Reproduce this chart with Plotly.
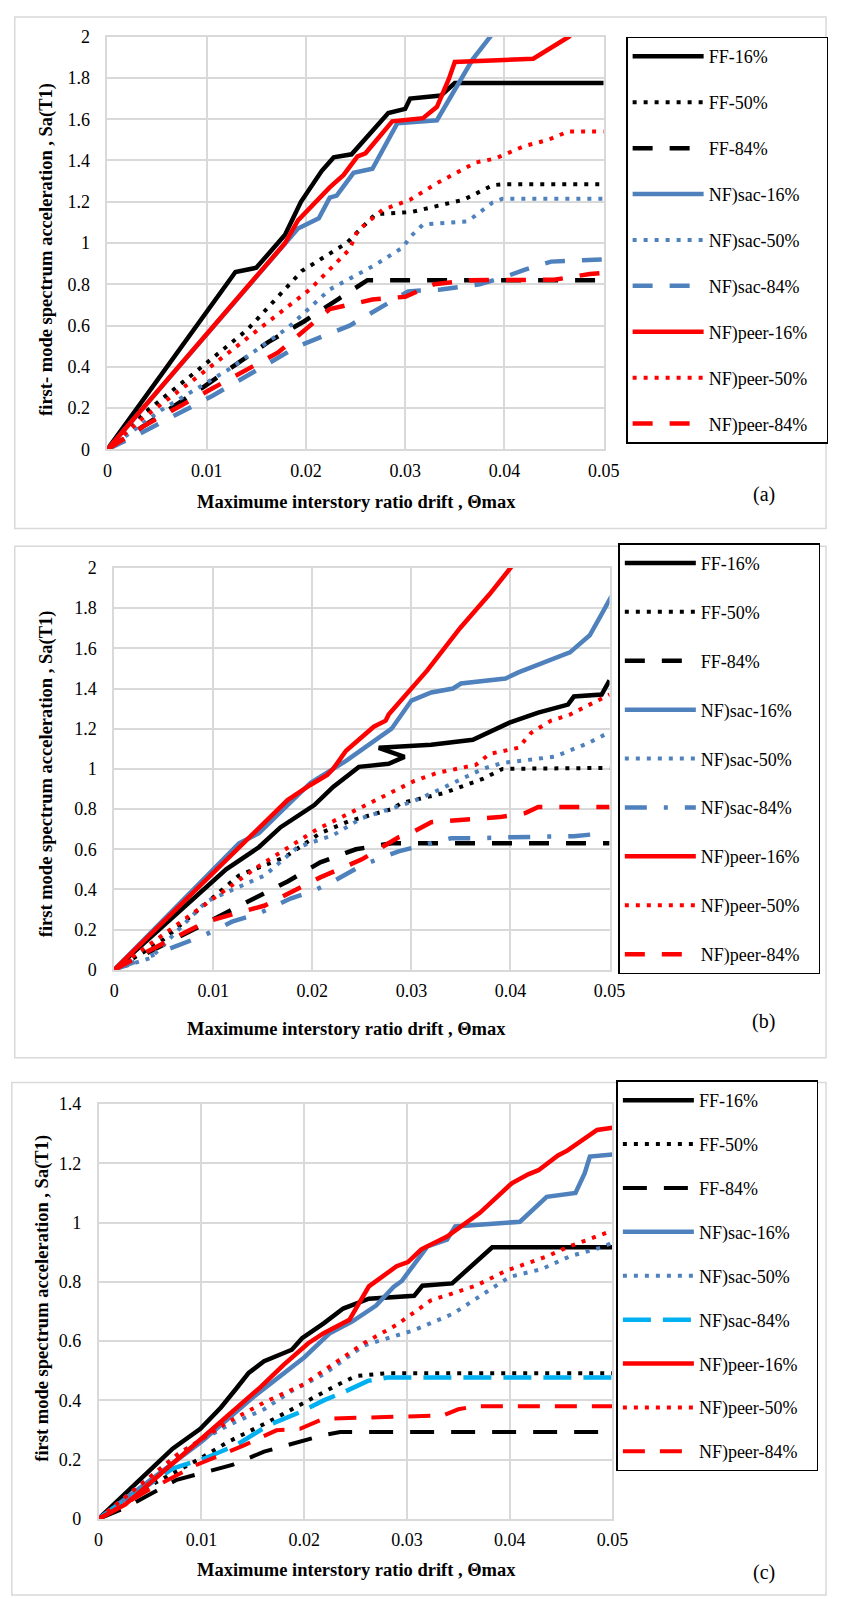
import plotly.graph_objects as go

# ---------------- data: panel (a) ----------------
A_FF16_X = [0, 0.0129, 0.015, 0.0179, 0.0195, 0.0216, 0.0228, 0.0246, 0.0283, 0.0300, 0.0305, 0.0336, 0.0350, 0.05]
A_FF16_Y = [0, 0.86, 0.88, 1.04, 1.20, 1.35, 1.415, 1.43, 1.63, 1.65, 1.70, 1.715, 1.775, 1.775]
A_FF50_X = [0, 0.0025, 0.009, 0.0141, 0.0196, 0.0241, 0.027, 0.0306, 0.0359, 0.0388, 0.0398, 0.05]
A_FF50_Y = [0, 0.13, 0.38, 0.58, 0.865, 1.0, 1.14, 1.15, 1.21, 1.28, 1.285, 1.285]
A_FF84_X = [0, 0.0096, 0.0162, 0.0198, 0.0233, 0.0262, 0.05]
A_FF84_Y = [0, 0.30, 0.52, 0.62, 0.73, 0.82, 0.82]
A_SAC16_X = [0, 0.0155, 0.018, 0.0192, 0.0213, 0.0224, 0.0231, 0.0248, 0.0267, 0.0292, 0.0332, 0.0368, 0.041]
A_SAC16_Y = [0, 0.86, 1.0, 1.07, 1.12, 1.22, 1.23, 1.34, 1.36, 1.58, 1.595, 1.89, 2.15]
A_SAC50_X = [0, 0.0054, 0.0123, 0.0182, 0.0224, 0.027, 0.0298, 0.0305, 0.0318, 0.0362, 0.037, 0.0388, 0.0398, 0.05]
A_SAC50_Y = [0, 0.19, 0.39, 0.59, 0.775, 0.895, 0.98, 1.03, 1.09, 1.105, 1.13, 1.196, 1.215, 1.215]
A_SAC84_X = [0, 0.0034, 0.0106, 0.0146, 0.0192, 0.0244, 0.028, 0.0303, 0.0336, 0.0375, 0.0401, 0.042, 0.0447, 0.0498]
A_SAC84_Y = [0, 0.08, 0.26, 0.37, 0.50, 0.60, 0.70, 0.766, 0.775, 0.80, 0.837, 0.87, 0.91, 0.92]
A_PEER16_X = [0, 0.0179, 0.0192, 0.0224, 0.0238, 0.0252, 0.026, 0.0287, 0.0318, 0.0332, 0.0344, 0.035, 0.0429, 0.0465, 0.05]
A_PEER16_Y = [0, 1.0, 1.11, 1.27, 1.33, 1.42, 1.435, 1.59, 1.605, 1.66, 1.795, 1.877, 1.893, 2.0, 2.2]
A_PEER50_X = [0, 0.0034, 0.0093, 0.0155, 0.0204, 0.0244, 0.0252, 0.0277, 0.0305, 0.0332, 0.0371, 0.0391, 0.042, 0.0444, 0.0464, 0.05]
A_PEER50_Y = [0, 0.145, 0.36, 0.59, 0.775, 0.97, 1.06, 1.16, 1.21, 1.29, 1.39, 1.41, 1.47, 1.50, 1.54, 1.54]
A_PEER84_X = [0, 0.0039, 0.0106, 0.0172, 0.0224, 0.0267, 0.030, 0.0329, 0.0365, 0.045, 0.0486, 0.05]
A_PEER84_Y = [0, 0.12, 0.296, 0.47, 0.68, 0.726, 0.74, 0.80, 0.82, 0.822, 0.85, 0.855]

# ---------------- data: panel (b) ----------------
B_FF16_X = [0, 0.0113, 0.0146, 0.0168, 0.0202, 0.0221, 0.0247, 0.0277, 0.0293, 0.0267, 0.032, 0.0362, 0.0399, 0.0428, 0.0458, 0.0464, 0.0492, 0.05]
B_FF16_Y = [0, 0.50, 0.61, 0.71, 0.82, 0.91, 1.01, 1.025, 1.06, 1.105, 1.12, 1.145, 1.23, 1.28, 1.32, 1.36, 1.37, 1.44]
B_FF50_X = [0, 0.0047, 0.0126, 0.0172, 0.0208, 0.0237, 0.028, 0.029, 0.0333, 0.0372, 0.0392, 0.05]
B_FF50_Y = [0, 0.14, 0.47, 0.56, 0.68, 0.74, 0.80, 0.83, 0.88, 0.95, 1.0, 1.005]
B_FF84_X = [0, 0.0106, 0.0146, 0.0175, 0.0208, 0.0244, 0.028, 0.05]
B_FF84_Y = [0, 0.27, 0.37, 0.44, 0.535, 0.60, 0.63, 0.63]
B_SAC16_X = [0, 0.0126, 0.0146, 0.0198, 0.0234, 0.028, 0.030, 0.032, 0.0342, 0.035, 0.0395, 0.0408, 0.046, 0.048, 0.0492, 0.0502]
B_SAC16_Y = [0, 0.63, 0.68, 0.93, 1.04, 1.20, 1.34, 1.38, 1.40, 1.425, 1.45, 1.48, 1.58, 1.665, 1.77, 1.86]
B_SAC50_X = [0, 0.0037, 0.0093, 0.0152, 0.0185, 0.0221, 0.025, 0.030, 0.0321, 0.0352, 0.0372, 0.0392, 0.0444, 0.0477, 0.0497]
B_SAC50_Y = [0, 0.06, 0.34, 0.47, 0.61, 0.67, 0.755, 0.835, 0.88, 0.95, 1.0, 1.03, 1.06, 1.125, 1.175]
B_SAC84_X = [0, 0.006, 0.009, 0.0119, 0.0146, 0.0178, 0.020, 0.0221, 0.025, 0.0287, 0.0308, 0.034, 0.0369, 0.0399, 0.0464, 0.0485]
B_SAC84_Y = [0, 0.11, 0.17, 0.24, 0.28, 0.355, 0.39, 0.44, 0.52, 0.59, 0.615, 0.655, 0.655, 0.66, 0.665, 0.675]
B_PEER16_X = [0, 0.0175, 0.0198, 0.0215, 0.0221, 0.0234, 0.0262, 0.0274, 0.0277, 0.0316, 0.0349, 0.0379, 0.040, 0.042]
B_PEER16_Y = [0, 0.845, 0.92, 0.97, 1.0, 1.09, 1.21, 1.24, 1.27, 1.49, 1.70, 1.87, 2.0, 2.13]
B_PEER50_X = [0, 0.008, 0.0144, 0.0205, 0.0271, 0.0303, 0.0326, 0.0365, 0.0379, 0.0408, 0.0421, 0.0441, 0.046, 0.048, 0.05]
B_PEER50_Y = [0, 0.28, 0.51, 0.70, 0.86, 0.94, 0.98, 1.02, 1.075, 1.105, 1.18, 1.24, 1.27, 1.32, 1.37]
B_PEER84_X = [0, 0.0037, 0.0093, 0.0152, 0.0208, 0.025, 0.0287, 0.0303, 0.032, 0.0346, 0.0389, 0.0415, 0.0428, 0.05]
B_PEER84_Y = [0, 0.10, 0.24, 0.32, 0.46, 0.55, 0.66, 0.69, 0.735, 0.745, 0.76, 0.78, 0.81, 0.81]

# ---------------- data: panel (c) ----------------
C_FF16_X = [0, 0.0072, 0.0099, 0.0119, 0.0134, 0.0146, 0.0161, 0.0188, 0.0198, 0.0219, 0.0238, 0.0263, 0.0307, 0.0315, 0.0344, 0.0383, 0.05]
C_FF16_Y = [0, 0.237, 0.304, 0.376, 0.44, 0.493, 0.532, 0.571, 0.61, 0.66, 0.71, 0.743, 0.753, 0.787, 0.795, 0.917, 0.917]
C_FF50_X = [0, 0.0053, 0.0099, 0.0126, 0.0165, 0.020, 0.0231, 0.025, 0.0281, 0.05]
C_FF50_Y = [0, 0.118, 0.204, 0.26, 0.327, 0.393, 0.45, 0.482, 0.492, 0.492]
C_FF84_X = [0, 0.0026, 0.0076, 0.013, 0.0161, 0.020, 0.0219, 0.0235, 0.05]
C_FF84_Y = [0, 0.038, 0.132, 0.182, 0.227, 0.265, 0.283, 0.293, 0.293]
C_SAC16_X = [0, 0.010, 0.015, 0.020, 0.0225, 0.0247, 0.027, 0.0287, 0.0295, 0.032, 0.0339, 0.0347, 0.041, 0.0436, 0.0464, 0.0473, 0.0478, 0.05]
C_SAC16_Y = [0, 0.26, 0.41, 0.545, 0.627, 0.667, 0.72, 0.783, 0.803, 0.92, 0.943, 0.987, 1.003, 1.087, 1.10, 1.167, 1.223, 1.23]
C_SAC50_X = [0, 0.008, 0.0126, 0.0161, 0.0188, 0.0219, 0.0258, 0.0307, 0.0345, 0.038, 0.040, 0.0431, 0.0459, 0.049, 0.05]
C_SAC50_Y = [0, 0.226, 0.316, 0.37, 0.432, 0.488, 0.585, 0.637, 0.693, 0.77, 0.817, 0.843, 0.887, 0.917, 0.933]
C_SAC84_X = [0, 0.0072, 0.0103, 0.0134, 0.0165, 0.0196, 0.0219, 0.0238, 0.0262, 0.0281, 0.05]
C_SAC84_Y = [0, 0.17, 0.204, 0.249, 0.316, 0.36, 0.40, 0.427, 0.466, 0.477, 0.477]
C_PEER16_X = [0, 0.0026, 0.0103, 0.0134, 0.0157, 0.018, 0.0204, 0.0219, 0.0244, 0.0263, 0.029, 0.0301, 0.0314, 0.0339, 0.0371, 0.0402, 0.0418, 0.0428, 0.0447, 0.0456, 0.0485, 0.05]
C_PEER16_Y = [0, 0.049, 0.28, 0.376, 0.443, 0.52, 0.593, 0.627, 0.672, 0.785, 0.853, 0.867, 0.91, 0.953, 1.033, 1.133, 1.163, 1.177, 1.227, 1.243, 1.313, 1.32]
C_PEER50_X = [0, 0.0076, 0.0126, 0.0161, 0.020, 0.0231, 0.0258, 0.029, 0.0323, 0.0367, 0.0396, 0.0437, 0.0456, 0.0495]
C_PEER50_Y = [0, 0.215, 0.327, 0.393, 0.455, 0.527, 0.593, 0.655, 0.737, 0.787, 0.837, 0.887, 0.917, 0.967]
C_PEER84_X = [0, 0.0049, 0.0095, 0.0142, 0.0173, 0.0196, 0.0219, 0.0238, 0.0296, 0.0335, 0.035, 0.0366, 0.05]
C_PEER84_Y = [0, 0.098, 0.182, 0.249, 0.299, 0.304, 0.338, 0.34, 0.343, 0.349, 0.37, 0.38, 0.38]

NAMES = ["FF-16%", "FF-50%", "FF-84%", "NF)sac-16%", "NF)sac-50%", "NF)sac-84%",
         "NF)peer-16%", "NF)peer-50%", "NF)peer-84%"]
X_TICKS = [0, 0.01, 0.02, 0.03, 0.04, 0.05]

BLACK = "#000000"
BLUE = "#4F81BD"
RED = "#FF0000"
CYAN = "#00B0F0"
GRID = "#D9D9D9"
FONT = "Liberation Serif, Times New Roman, serif"
DOT = "4px,7px"

panels = [
    dict(key="a", ax="", legend="legend",
         series=[(A_FF16_X, A_FF16_Y), (A_FF50_X, A_FF50_Y), (A_FF84_X, A_FF84_Y),
                 (A_SAC16_X, A_SAC16_Y), (A_SAC50_X, A_SAC50_Y), (A_SAC84_X, A_SAC84_Y),
                 (A_PEER16_X, A_PEER16_Y), (A_PEER50_X, A_PEER50_Y), (A_PEER84_X, A_PEER84_Y)],
         colors=[BLACK, BLACK, BLACK, BLUE, BLUE, BLUE, RED, RED, RED],
         dashes=["solid", DOT, "20px,17px"] * 3,
         widths=[4.5, 4, 4.5] * 3,
         px=(105, 614), py=(27, 445), yr=2, dy=0.2,
         ytitle="first- mode spectrum acceleration , Sa(T1)", ytx=43, yty=242,
         xtx=360, xty=498,
         box=(10, 7, 842, 525), leg=(637, 27), gap=19.5, tag_xy=(778, 491)),
    dict(key="b", ax="2", legend="legend2",
         series=[(B_FF16_X, B_FF16_Y), (B_FF50_X, B_FF50_Y), (B_FF84_X, B_FF84_Y),
                 (B_SAC16_X, B_SAC16_Y), (B_SAC50_X, B_SAC50_Y), (B_SAC84_X, B_SAC84_Y),
                 (B_PEER16_X, B_PEER16_Y), (B_PEER50_X, B_PEER50_Y), (B_PEER84_X, B_PEER84_Y)],
         colors=[BLACK, BLACK, BLACK, BLUE, BLUE, BLUE, RED, RED, RED],
         dashes=["solid", DOT, "20px,17px", "solid", DOT, "22px,17px,4px,17px",
                 "solid", DOT, "20px,17px"],
         widths=[4.5, 4, 4.5] * 3,
         px=(112, 620), py=(565, 972), yr=2, dy=0.2,
         ytitle="first mode spectrum acceleration , Sa(T1)", ytx=42, yty=773,
         xtx=350, xty=1032,
         box=(10, 543, 842, 1061), leg=(629, 540), gap=22.5, tag_xy=(778, 1024)),
    dict(key="c", ax="3", legend="legend3",
         series=[(C_FF16_X, C_FF16_Y), (C_FF50_X, C_FF50_Y), (C_FF84_X, C_FF84_Y),
                 (C_SAC16_X, C_SAC16_Y), (C_SAC50_X, C_SAC50_Y), (C_SAC84_X, C_SAC84_Y),
                 (C_PEER16_X, C_PEER16_Y), (C_PEER50_X, C_PEER50_Y), (C_PEER84_X, C_PEER84_Y)],
         colors=[BLACK, BLACK, BLACK, BLUE, BLUE, CYAN, RED, RED, RED],
         dashes=["solid", DOT, "24px,17px", "solid", DOT, "28px,12px",
                 "solid", DOT, "22px,15px"],
         widths=[4.5, 4, 4, 4.5, 4, 4.5, 4.5, 4, 4],
         px=(96, 623), py=(1108, 1528), yr=1.4, dy=0.2,
         ytitle="first mode spectrum acceleration , Sa(T1)", ytx=39, yty=1305,
         xtx=360, xty=1580,
         box=(7, 1086, 842, 1605), leg=(627, 1084), gap=17.5, tag_xy=(778, 1582)),
]

W, H = 843, 1599
fig = go.Figure()
shapes = []
annotations = []
layout = {}
PAD = "\u00a0\u00a0\u00a0"

for p in panels:
    xa = "x" + p["ax"]
    ya = "y" + p["ax"]
    for i, (xs, ys) in enumerate(p["series"]):
        fig.add_trace(go.Scatter(
            x=xs, y=ys, mode="lines", name=NAMES[i] + PAD,
            xaxis=xa, yaxis=ya, legend=p["legend"], legendgroup=p["key"] + str(i),
            line=dict(color=p["colors"][i], width=p["widths"][i], dash=p["dashes"][i]),
        ))
    x0, x1 = p["px"]
    yt, yb = p["py"]
    axis_common = dict(showgrid=True, gridcolor=GRID, gridwidth=1.5, zeroline=False,
                       showline=True, linecolor=GRID, linewidth=1.5, mirror=True,
                       tickfont=dict(family=FONT, size=18, color="#000"), ticks="")
    layout["xaxis" + p["ax"]] = dict(domain=[x0 / W, x1 / W], range=[0, 0.05],
                                     tickvals=X_TICKS, anchor=ya, ticklabelstandoff=4,
                                     **axis_common)
    layout["yaxis" + p["ax"]] = dict(domain=[1 - yb / H, 1 - yt / H], range=[0, p["yr"]],
                                     dtick=p["dy"], tick0=0, anchor=xa, ticklabelstandoff=12,
                                     **axis_common)
    bx0, by0, bx1, by1 = p["box"]
    shapes.append(dict(type="rect", xref="paper", yref="paper", x0=bx0 / W, x1=bx1 / W,
                       y0=1 - by1 / H, y1=1 - by0 / H, line=dict(color=GRID, width=1.5),
                       layer="below"))
    annotations.append(dict(text="<b>Maximume interstory ratio drift , \u0398max</b>",
                            xref="paper", yref="paper", x=p["xtx"] / W,
                            y=1 - p["xty"] / H, xanchor="center", yanchor="middle",
                            showarrow=False,
                            font=dict(family=FONT, size=18.5, color="#000")))
    annotations.append(dict(text="<b>" + p["ytitle"] + "</b>", textangle=-90,
                            xref="paper", yref="paper", x=p["ytx"] / W,
                            y=1 - p["yty"] / H, xanchor="center", yanchor="middle",
                            showarrow=False,
                            font=dict(family=FONT, size=18.5, color="#000")))
    tx, ty = p["tag_xy"]
    annotations.append(dict(text="(" + p["key"] + ")", xref="paper", yref="paper",
                            x=tx / W, y=1 - ty / H, xanchor="center", yanchor="middle",
                            showarrow=False,
                            font=dict(family=FONT, size=20, color="#000")))
    lx, ly = p["leg"]
    layout[p["legend"]] = dict(x=lx / W, y=1 - ly / H, xanchor="left", yanchor="top",
                               bordercolor="#000", borderwidth=1.5, bgcolor="#fff",
                               font=dict(family=FONT, size=18, color="#000"),
                               tracegroupgap=p["gap"], itemwidth=71, traceorder="grouped")

fig.update_layout(width=W, height=H, margin=dict(l=0, r=0, t=0, b=0),
                  paper_bgcolor="#fff", plot_bgcolor="#fff",
                  font=dict(family=FONT, color="#000"),
                  shapes=shapes, annotations=annotations, **layout)
fig.write_html("out.html",
               post_script="document.body.style.margin='0';document.body.style.overflow='hidden';")
